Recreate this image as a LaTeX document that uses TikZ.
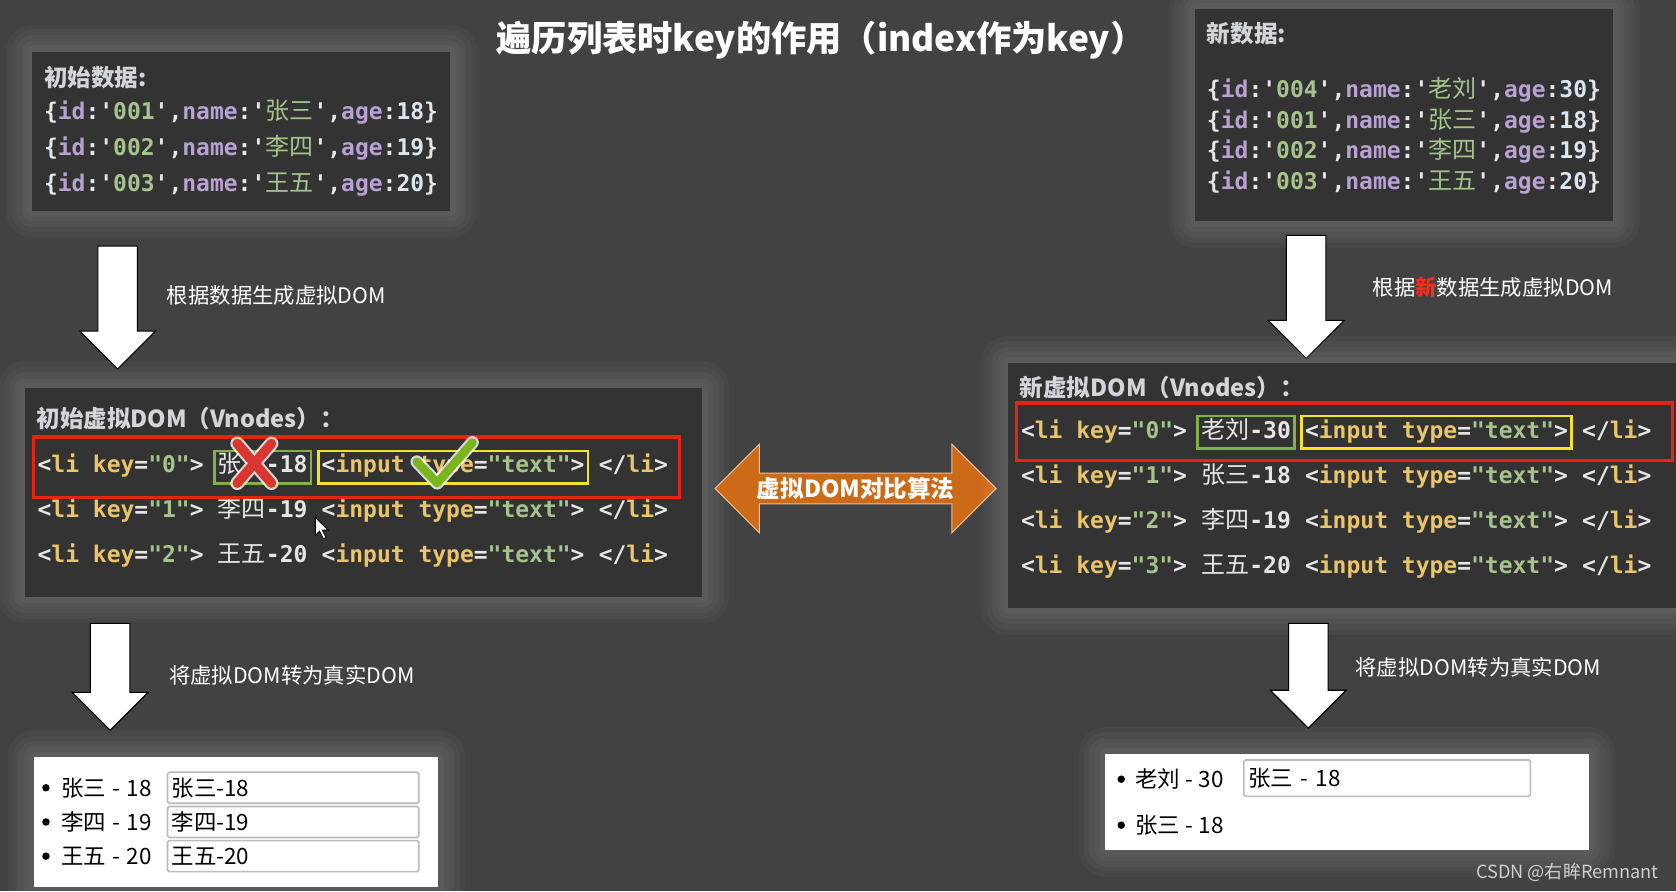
\documentclass[tikz,border=0pt]{standalone}
\usepackage{fontspec}
\setmainfont{Noto Sans CJK SC}
\setmonofont{DejaVu Sans Mono}
\newfontfamily\cjk{Noto Sans CJK SC}
\usetikzlibrary{positioning,shapes.arrows,fit}

\definecolor{bgc}{HTML}{424242}
\definecolor{boxc}{HTML}{333333}
\definecolor{headc}{HTML}{D2D5D9}
\definecolor{propc}{HTML}{B7A2D3}
\definecolor{strc}{HTML}{A6C38B}
\definecolor{numc}{HTML}{DCE6F0}
\definecolor{kwc}{HTML}{E9C46A}
\definecolor{txtc}{HTML}{E6E6E6}
\definecolor{redc}{HTML}{E8230F}
\definecolor{grnc}{HTML}{7DB34A}
\definecolor{ylwc}{HTML}{F2E42C}
\definecolor{orgc}{HTML}{CD6A17}
\definecolor{inpc}{HTML}{BBBBBB}
\definecolor{hotred}{HTML}{FF2A1A}
\definecolor{wmc}{HTML}{CFCFCF}
\definecolor{crossc}{HTML}{D8362F}
\definecolor{tickc}{HTML}{79B51C}

\newcommand\propv[1]{\textcolor{propc}{#1}}
\newcommand\strv[1]{\textcolor{strc}{#1}}
\newcommand\numv[1]{\textcolor{numc}{#1}}
\newcommand\kwv[1]{\textcolor{kwc}{#1}}
\newcommand\cnm[1]{{\cjk\mdseries\fontsize{22.5pt}{26pt}\selectfont #1}}

\begin{document}
\begin{tikzpicture}[x=1pt,y=-1pt,
  glow/.style={preaction={draw=white,draw opacity=.03,line width=50pt,line join=round},
               preaction={draw=white,draw opacity=.03,line width=40pt,line join=round},
               preaction={draw=white,draw opacity=.03,line width=30pt,line join=round},
               preaction={draw=white,draw opacity=.03,line width=20pt,line join=round},
               preaction={draw=white,draw opacity=.03,line width=10pt,line join=round}},
  darkbox/.style={fill=boxc,anchor=north west,inner sep=0pt,glow},
  whitebox/.style={fill=white,anchor=north west,inner sep=0pt,glow},
  titletxt/.style={text=white,font=\bfseries\fontsize{33pt}{38pt}\selectfont},
  headtxt/.style={text=headc,anchor=west,inner sep=0pt,font=\bfseries\fontsize{22pt}{26pt}\selectfont},
  code/.style={text=txtc,anchor=west,inner xsep=3pt,inner ysep=4.5pt,text height=16pt,text depth=5pt,
    font=\ttfamily\bfseries\fontsize{21.5pt}{26pt}\selectfont},
  arrowtxt/.style={text=white,anchor=west,inner sep=0pt,font=\fontsize{20pt}{24pt}\selectfont},
  downarrow/.style={single arrow,shape border rotate=270,fill=white,draw=black,line width=1pt,
    minimum width=70pt,single arrow head extend=17pt,inner sep=18pt,minimum height=#1},
  cmparrow/.style={double arrow,fill=orgc,draw=orgc!45!white,line width=1pt,minimum height=263pt,
    minimum width=83pt,double arrow head extend=21pt,inner sep=0pt,text=white,
    font=\bfseries\fontsize{22pt}{26pt}\selectfont},
  redframe/.style={draw=redc,line width=3pt},
  grnframe/.style={draw=grnc,line width=2.5pt},
  ylwframe/.style={draw=ylwc,line width=2.5pt},
  dot/.style={circle,fill=black,inner sep=0pt,minimum size=7pt},
  domtxt/.style={text=black,anchor=west,inner sep=0pt,font=\fontsize{21pt}{25pt}\selectfont},
  inputbox/.style={draw=inpc,line width=1.5pt,rounded corners=1.5pt,fill=white,anchor=west,text=black,
    text width=227pt,inner xsep=4pt,minimum height=29pt,align=left,font=\fontsize{21pt}{25pt}\selectfont}]

  \useasboundingbox (0,0) rectangle (1568,834);
  \fill[bgc] (0,0) rectangle (1568,834);

  \node[titletxt] (title) at (768,38) {遍历列表时key的作用（index作为key）};

  % initial data
  \node[darkbox,minimum width=391pt,minimum height=149pt] (olddata) at (30,48) {};
  \node[headtxt] (olddatah) at (41,73) {初始数据:};
  \foreach \id/\nm/\ag [count=\i] in {001/张三/18,002/李四/19,003/王五/20}
    \node[code] (od\i) at (38,72+34*\i)
      {\{\propv{id}:'\strv{\id}',\propv{name}:'\strv{\cnm{\nm}}',\propv{age}:\numv{\ag}\}};

  % new data
  \node[darkbox,minimum width=391pt,minimum height=199pt] (newdata) at (1118,8) {};
  \node[headtxt] (newdatah) at (1129,31) {新数据:};
  \foreach \id/\nm/\ag [count=\i] in {004/老刘/30,001/张三/18,002/李四/19,003/王五/20}
    \node[code] (nd\i) at (1126,57.5+28.5*\i)
      {\{\propv{id}:'\strv{\id}',\propv{name}:'\strv{\cnm{\nm}}',\propv{age}:\numv{\ag}\}};

  % down arrows
  \node[downarrow=115pt] (toold) at (110,278.5) {};
  \node[arrowtxt] (tooldtxt) at ([xshift=46pt,yshift=2pt]toold.center) {根据数据生成虚拟DOM};
  \node[downarrow=115pt] (tonew) at (1222,268.5) {};
  \node[arrowtxt] (tonewtxt) at ([xshift=62pt,yshift=-0.5pt]tonew.center)
    {根据\textcolor{hotred}{\bfseries 新}数据生成虚拟DOM};

  % initial virtual dom
  \node[darkbox,minimum width=634pt,minimum height=195pt] (oldvdom) at (23,363) {};
  \node[headtxt] (oldvdomh) at (34,392) {初始虚拟DOM（Vnodes）：};
  \foreach \k/\nm/\ag [count=\i] in {0/张三/18,1/李四/19,2/王五/20} {
    \node[code] (la\i) at (32,395+42*\i) {<\kwv{li key}=\strv{"\k"}>};
    \node[code,right=6.9pt of la\i] (lb\i) {\cnm{\nm}-\ag};
    \node[code,right=6.9pt of lb\i] (lc\i) {<\kwv{input type}=\strv{"text"}>};
    \node[code,right=6.9pt of lc\i] (ld\i) {</\kwv{li}>};
  }
  \draw[redframe] ([xshift=-1pt,yshift=13pt]la1.north west) rectangle ([xshift=7.6pt,yshift=-13pt]ld1.south east);
  \draw[grnframe] (lb1.north west) rectangle (lb1.south east);
  \draw[ylwframe] (lc1.north west) rectangle (lc1.south east);

  % marks on the first row
  \draw[white,line width=13pt,line cap=round,opacity=.8] (222,415) -- (254,452) (254,415) -- (222,452);
  \draw[crossc,line width=9pt,line cap=round] (222,415) -- (254,452) (254,415) -- (222,452);
  \draw[white,line width=12pt,line cap=round,line join=round,opacity=.8] (390,432) -- (409,452) -- (442,414);
  \draw[tickc,line width=8pt,line cap=round,line join=round] (390,432) -- (409,452) -- (442,414);
  \draw[fill=white,draw=black,line width=.8pt] (295,484) -- ++(0,17) -- ++(4,-4) -- ++(3.5,7)
    -- ++(2.5,-1.2) -- ++(-3.5,-6.8) -- ++(5.5,0) -- cycle;

  % compare
  \node[cmparrow] (cmp) at (800.5,457) {虚拟DOM对比算法};

  % new virtual dom
  \node[darkbox,minimum width=640pt,minimum height=230pt] (newvdom) at (943,339) {};
  \node[headtxt] (newvdomh) at (954,363) {新虚拟DOM（Vnodes）：};
  \foreach \k/\nm/\ag [count=\i] in {0/老刘/30,1/张三/18,2/李四/19,3/王五/20} {
    \node[code] (ra\i) at (952,362+42.3*\i) {<\kwv{li key}=\strv{"\k"}>};
    \node[code,right=6.9pt of ra\i] (rb\i) {\cnm{\nm}-\ag};
    \node[code,right=6.9pt of rb\i] (rc\i) {<\kwv{input type}=\strv{"text"}>};
    \node[code,right=6.9pt of rc\i] (rd\i) {</\kwv{li}>};
  }
  \draw[redframe] ([xshift=-1pt,yshift=12pt]ra1.north west) rectangle ([xshift=16.6pt,yshift=-11pt]rd1.south east);
  \draw[grnframe] (rb1.north west) rectangle (rb1.south east);
  \draw[ylwframe] (rc1.north west) rectangle (rc1.south east);

  % to real dom
  \node[downarrow=100pt] (toreal) at (103,624) {};
  \node[arrowtxt] (torealtxt) at ([xshift=55pt,yshift=-8pt]toreal.center) {将虚拟DOM转为真实DOM};
  \node[downarrow=98pt] (tonewreal) at (1224,623) {};
  \node[arrowtxt] (tonewrealtxt) at ([xshift=44pt,yshift=-1pt]tonewreal.center) {将虚拟DOM转为真实DOM};

  % real dom
  \node[whitebox,minimum width=378pt,minimum height=122pt] (oldreal) at (32,708) {};
  \foreach \nm/\ag [count=\i] in {张三/18,李四/19,王五/20} {
    \node[dot] (lp\i) at (43,705+32*\i) {};
    \node[domtxt] (lo\i) at (57,705+32*\i) {\nm\hspace{6pt}-\hspace{6pt}\ag};
    \node[inputbox] (li\i) at (156,705+32*\i) {\nm-\ag};
  }
  \node[whitebox,minimum width=452pt,minimum height=90pt] (newreal) at (1034,705) {};
  \node[dot] (np1) at (1049,729) {};
  \node[domtxt] (no1) at (1062,729) {老刘\hspace{5pt}-\hspace{5pt}30};
  \node[inputbox,text width=260pt,minimum height=34pt] (ni1) at (1163,728) {张三 - 18};
  \node[dot] (np2) at (1049,772) {};
  \node[domtxt] (no2) at (1062,772) {张三\hspace{5pt}-\hspace{5pt}18};

  \node[anchor=east,text=wmc,inner sep=0pt,font=\fontsize{17pt}{20pt}\selectfont] (mark) at (1552,816)
    {CSDN @右眸Remnant};
\end{tikzpicture}
\end{document}
